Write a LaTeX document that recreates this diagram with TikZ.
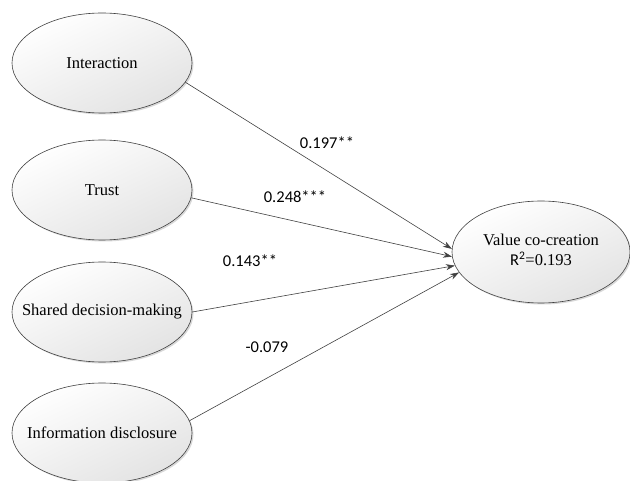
\documentclass[tikz,border=0pt]{standalone}
\usepackage{fontspec}
\setmainfont{Liberation Serif}
\newfontfamily\lblfont{Carlito}
\usetikzlibrary{shapes.geometric,shadows,arrows.meta}
\begin{document}
\begin{tikzpicture}[x=1pt,y=-1pt,
  latent/.style={ellipse, draw=black!75, line width=0.6pt, inner sep=0pt,
    minimum width=180pt, minimum height=100pt,
    top color=white, bottom color=black!11, shading angle=25,
    drop shadow={shadow xshift=1.5pt, shadow yshift=-1.5pt, fill=black!30, opacity=0.5},
    font=\fontsize{16.5}{20}\selectfont},
  pathline/.style={draw=black!75, line width=0.6pt, -{Stealth[length=9pt,width=6pt]}},
  coef/.style={font=\lblfont\fontsize{16.5}{20}\selectfont, inner sep=0pt}]
\useasboundingbox (0,0) rectangle (630,481);

\node[latent] (int) at (102,63) {\makebox[0pt]{Interaction}};
\node[latent] (tru) at (102,190) {\makebox[0pt]{Trust}};
\node[latent] (sdm) at (102,312) {\makebox[0pt]{Shared decision-making}};
\node[latent] (inf) at (102,433) {\makebox[0pt]{Information disclosure}};
\node[latent, minimum width=178pt, minimum height=102pt] (vcc) at (541,252)
  {\makebox[0pt]{\begin{tabular}{@{}c@{}}Value co-creation\\{\lblfont R\textsuperscript{2}}=0.193\end{tabular}}};

\draw[pathline] (int.-13) -- (vcc.178);
\draw[pathline] (tru.-5) -- (vcc.183);
\draw[pathline] (sdm.0) -- (vcc.189);
\draw[pathline] (inf.8) -- (vcc.194);

\node[coef] (c1) at (327,143) {0.197**};
\node[coef] (c2) at (295,197) {0.248***};
\node[coef] (c3) at (250,261) {0.143**};
\node[coef] (c4) at (267,347) {-0.079};
\end{tikzpicture}
\end{document}
